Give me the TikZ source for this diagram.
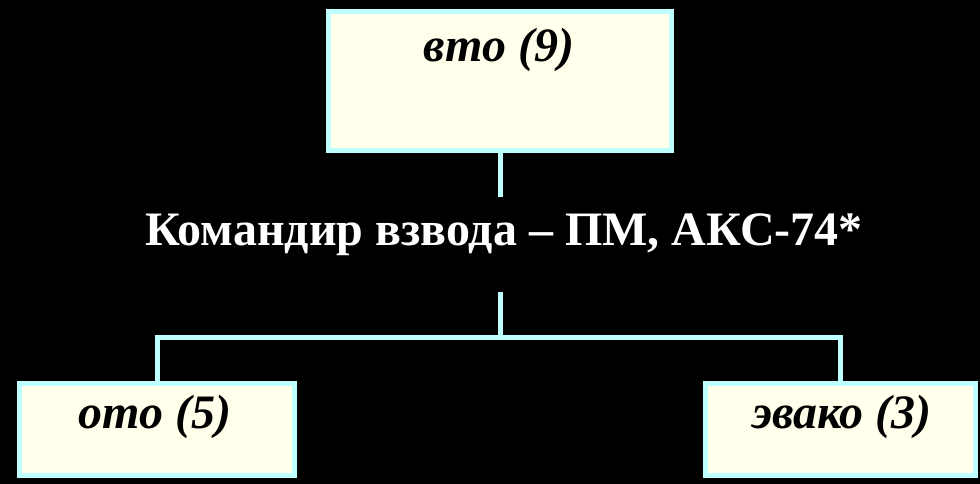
\documentclass[tikz,border=0pt]{standalone}
\usepackage{fontspec}
\setmainfont{Liberation Serif}
\definecolor{edge}{HTML}{C0FFFF}
\definecolor{paper}{HTML}{FFFFEC}
\tikzset{
  box/.style={draw=edge, fill=paper, line width=3.75pt, inner sep=0pt, line join=miter},
  boxlabel/.style={font=\fontsize{36}{36}\selectfont\bfseries\itshape, text=black, anchor=base, inner sep=0pt},
  link/.style={draw=edge, line width=3.75pt, line join=miter},
}
\begin{document}
\begin{tikzpicture}[x=0.75pt,y=-0.75pt]
\fill[black] (0,0) rectangle (980,484);
\useasboundingbox (0,0) rectangle (980,484);
\node[box, minimum width=257.25pt, minimum height=104.25pt] (top) at (500,81) {};
\node[box, minimum width=206.25pt, minimum height=69pt] (left) at (157,429.5) {};
\node[box, minimum width=202.5pt, minimum height=69pt] (right) at (840.5,429.5) {};
\node[boxlabel] (toplab) at (499,62) {вто (9)};
\node[boxlabel] (leftlab) at (155,428) {ото (5)};
\node[boxlabel] (rightlab) at (842,428) {эвако (3)};
\node[font=\fontsize{36}{36}\selectfont\bfseries, text=white, anchor=base, inner sep=0pt] (title) at (504,246) {Командир взвода – ПМ, АКС-74*};
\coordinate (ta) at (500,197);
\coordinate (tb) at (500,292);
\coordinate (hub) at (500,337);
\draw[link] (top.south) -- (ta);
\draw[link] (tb) -- (hub);
\draw[link] (left.north) |- (hub) -| (right.north);
\end{tikzpicture}
\end{document}
